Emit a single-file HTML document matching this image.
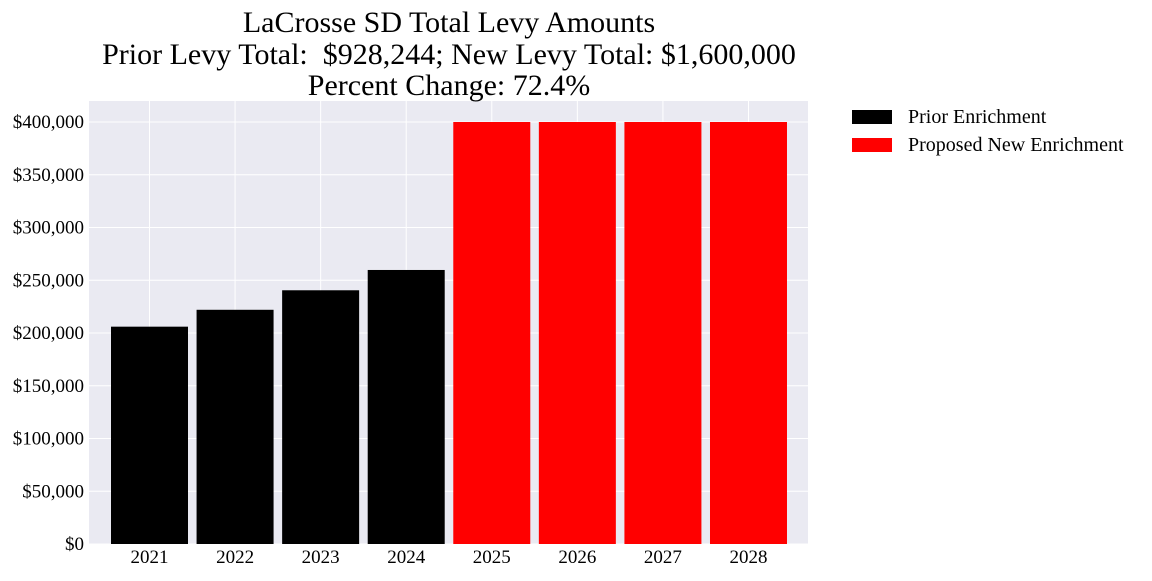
<!DOCTYPE html>
<html><head><meta charset="utf-8"><style>
body{margin:0;background:#fff;}
svg text{font-family:"Liberation Serif",serif;fill:#000;white-space:pre;}
</style></head><body>
<svg id="chart" width="1152" height="576">
<rect x="89" y="101" width="719" height="443" fill="#eaeaf2"/>
<g id="grid"></g><g id="bars"></g><g id="xticks"></g><g id="yticks"></g>
<text x="449" y="32" font-size="30" text-anchor="middle">LaCrosse SD Total Levy Amounts</text>
<text x="449" y="64" font-size="30" text-anchor="middle" xml:space="preserve">Prior Levy Total:  $928,244; New Levy Total: $1,600,000</text>
<text x="449" y="95" font-size="30" text-anchor="middle">Percent Change: 72.4%</text>
<g>
<rect x="852" y="110" width="40" height="14" fill="#000"/>
<text x="908" y="123" font-size="20">Prior Enrichment</text>
<rect x="852" y="138" width="40" height="14" fill="#ff0000"/>
<text x="908" y="151" font-size="20">Proposed New Enrichment</text>
</g>
</svg>
<script>
const categories=["2021","2022","2023","2024","2025","2026","2027","2028"];
const values=[206000,222000,240500,259744,400000,400000,400000,400000];
const isNew=[false,false,false,false,true,true,true,true];
const yTicks=[0,50000,100000,150000,200000,250000,300000,350000,400000];
const ns="http://www.w3.org/2000/svg";
const y0=544,pxPer=422/400000;
const yScale=v=>y0-v*pxPer;
const xCenter=i=>149.5+85.57*i;
const bw=77;
function mk(t,a,p){const e=document.createElementNS(ns,t);for(const k in a)e.setAttribute(k,a[k]);document.getElementById(p).appendChild(e);return e;}
yTicks.forEach(t=>{
 const g=mk('line',{x1:89,x2:808,y1:yScale(t),y2:yScale(t),stroke:'#fff','stroke-width':1},'grid');
 
 
 const l=mk('text',{x:84,y:yScale(t)+6,'font-size':19,'text-anchor':'end'},'yticks');
 l.textContent='$'+t.toLocaleString('en-US');
 
 
});
categories.forEach((c,i)=>{
 const g=mk('line',{x1:xCenter(i),x2:xCenter(i),y1:101,y2:544,stroke:'#fff','stroke-width':1},'grid');
 
 
 const r=mk('rect',{x:xCenter(i)-bw/2,y:yScale(values[i]),width:bw,height:values[i]*pxPer,fill:isNew[i]?'#ff0000':'#000'},'bars');
 
 
 const l=mk('text',{x:xCenter(i),y:563,'font-size':19,'text-anchor':'middle'},'xticks');
 l.textContent=c;
 
 
});
</script>
</body></html>
